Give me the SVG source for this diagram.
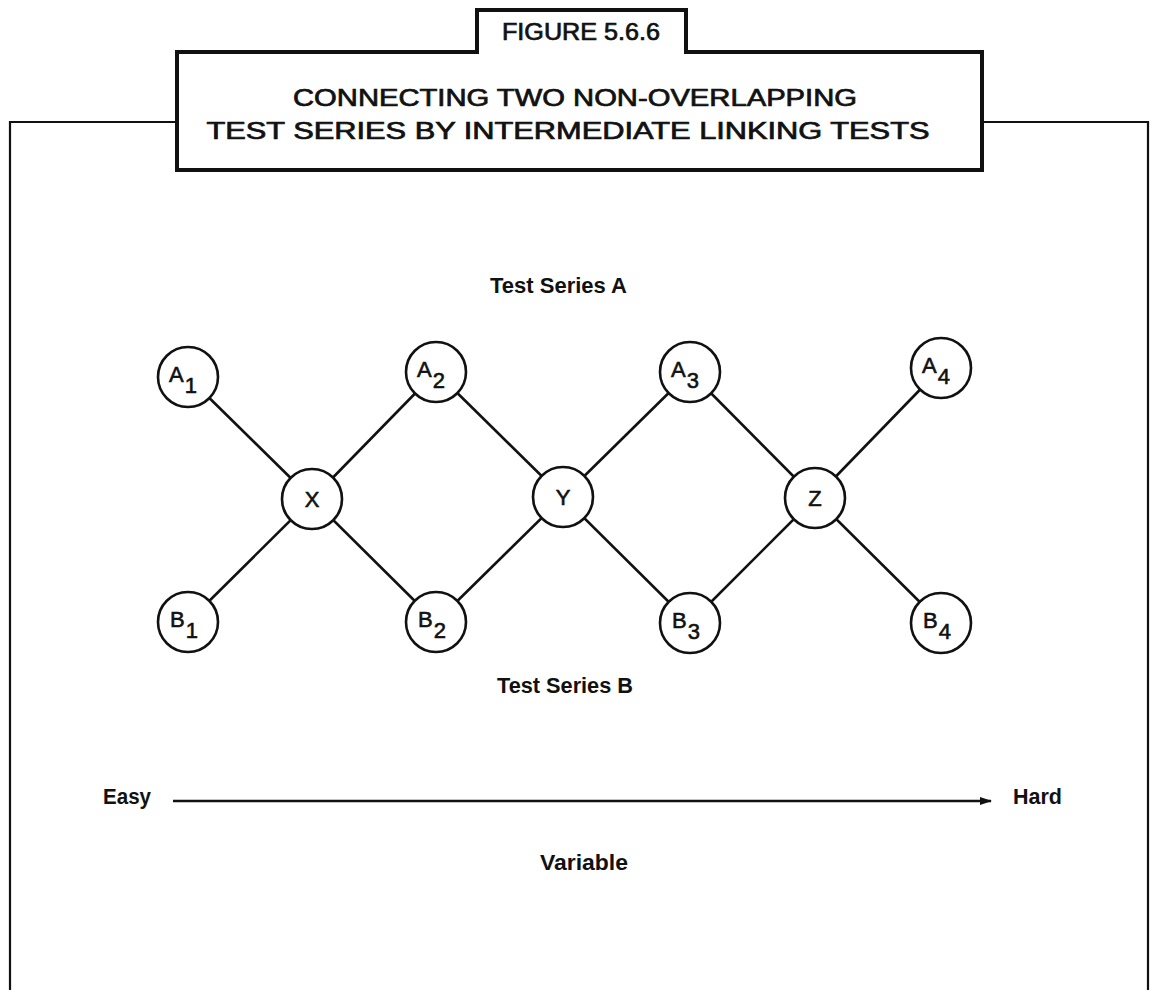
<svg xmlns="http://www.w3.org/2000/svg" width="1154" height="990" viewBox="0 0 1154 990">
<style>
.frame{fill:none;stroke:#111;stroke-width:2.2}
.tbox{fill:#fff;stroke:#111;stroke-width:4;stroke-linejoin:miter}
.ttl{font-family:"Liberation Sans",Arial,sans-serif;font-size:23px;fill:#111;stroke:#111;stroke-width:0.7;text-anchor:middle}
.lbl{font-family:"Liberation Sans",Arial,sans-serif;font-weight:bold;font-size:22px;fill:#111}
.node circle{fill:#fff;stroke:#111;stroke-width:2.6}
.nt{font-family:"Liberation Sans",Arial,sans-serif;font-size:22px;fill:#111;stroke:#111;stroke-width:0.6}
.edge{stroke:#111;stroke-width:2.6}
</style>
<defs>
<marker id="ah" markerWidth="12" markerHeight="10" refX="11" refY="5" orient="auto" markerUnits="userSpaceOnUse">
<path d="M0,1 L12,5 L0,9 Z" fill="#111"/>
</marker>
</defs>
<rect width="1154" height="990" fill="#fff"/>
<g id="frame">
<path class="frame" d="M10,990 V122 H177"/>
<path class="frame" d="M982,122 H1148 V990"/>
</g>
<g id="title">
<path class="tbox" d="M177,52 H477 V10 H686 V52 H982 V170 H177 Z"/>
<text class="ttl" x="581" y="40" font-size="20" textLength="158" lengthAdjust="spacingAndGlyphs">FIGURE 5.6.6</text>
<text class="ttl" x="575" y="106" textLength="564" lengthAdjust="spacingAndGlyphs">CONNECTING TWO NON-OVERLAPPING</text>
<text class="ttl" x="568" y="139" textLength="723" lengthAdjust="spacingAndGlyphs">TEST SERIES BY INTERMEDIATE LINKING TESTS</text>
</g>
<g id="connectors">
<line class="edge" x1="188" y1="377" x2="312" y2="499"/>
<line class="edge" x1="188" y1="622" x2="312" y2="499"/>
<line class="edge" x1="436" y1="372" x2="312" y2="499"/>
<line class="edge" x1="436" y1="622" x2="312" y2="499"/>
<line class="edge" x1="436" y1="372" x2="563" y2="497"/>
<line class="edge" x1="436" y1="622" x2="563" y2="497"/>
<line class="edge" x1="690" y1="372" x2="563" y2="497"/>
<line class="edge" x1="690" y1="623" x2="563" y2="497"/>
<line class="edge" x1="690" y1="372" x2="815" y2="498"/>
<line class="edge" x1="690" y1="623" x2="815" y2="498"/>
<line class="edge" x1="941" y1="368" x2="815" y2="498"/>
<line class="edge" x1="941" y1="623" x2="815" y2="498"/>
<line class="edge" x1="173" y1="801" x2="991" y2="801" marker-end="url(#ah)" stroke-width="2"/>
</g>
<g id="nA1" class="node"><circle cx="188" cy="377" r="30"/><text class="nt" x="169" y="382">A<tspan dx="1" dy="11">1</tspan></text></g>
<g id="nA2" class="node"><circle cx="436" cy="372" r="30"/><text class="nt" x="417" y="377">A<tspan dx="1" dy="11">2</tspan></text></g>
<g id="nA3" class="node"><circle cx="690" cy="372" r="30"/><text class="nt" x="671" y="377">A<tspan dx="1" dy="11">3</tspan></text></g>
<g id="nA4" class="node"><circle cx="941" cy="368" r="30"/><text class="nt" x="922" y="373">A<tspan dx="1" dy="11">4</tspan></text></g>
<g id="nX" class="node"><circle cx="312" cy="499" r="30"/><text class="nt" x="312" y="507" text-anchor="middle">X</text></g>
<g id="nY" class="node"><circle cx="563" cy="497" r="30"/><text class="nt" x="563" y="505" text-anchor="middle">Y</text></g>
<g id="nZ" class="node"><circle cx="815" cy="498" r="30"/><text class="nt" x="815" y="506" text-anchor="middle">Z</text></g>
<g id="nB1" class="node"><circle cx="188" cy="622" r="30"/><text class="nt" x="170" y="627">B<tspan dx="1" dy="11">1</tspan></text></g>
<g id="nB2" class="node"><circle cx="436" cy="622" r="30"/><text class="nt" x="418" y="627">B<tspan dx="1" dy="11">2</tspan></text></g>
<g id="nB3" class="node"><circle cx="690" cy="623" r="30"/><text class="nt" x="672" y="628">B<tspan dx="1" dy="11">3</tspan></text></g>
<g id="nB4" class="node"><circle cx="941" cy="623" r="30"/><text class="nt" x="923" y="628">B<tspan dx="1" dy="11">4</tspan></text></g>
<g id="labels">
<text class="lbl" x="490" y="293" textLength="137" lengthAdjust="spacingAndGlyphs">Test Series A</text>
<text class="lbl" x="497" y="693" textLength="136" lengthAdjust="spacingAndGlyphs">Test Series B</text>
<text class="lbl" x="103" y="804" textLength="48" lengthAdjust="spacingAndGlyphs">Easy</text>
<text class="lbl" x="1013" y="804" textLength="49" lengthAdjust="spacingAndGlyphs">Hard</text>
<text class="lbl" x="540" y="870" textLength="88" lengthAdjust="spacingAndGlyphs">Variable</text>
</g>
</svg>
